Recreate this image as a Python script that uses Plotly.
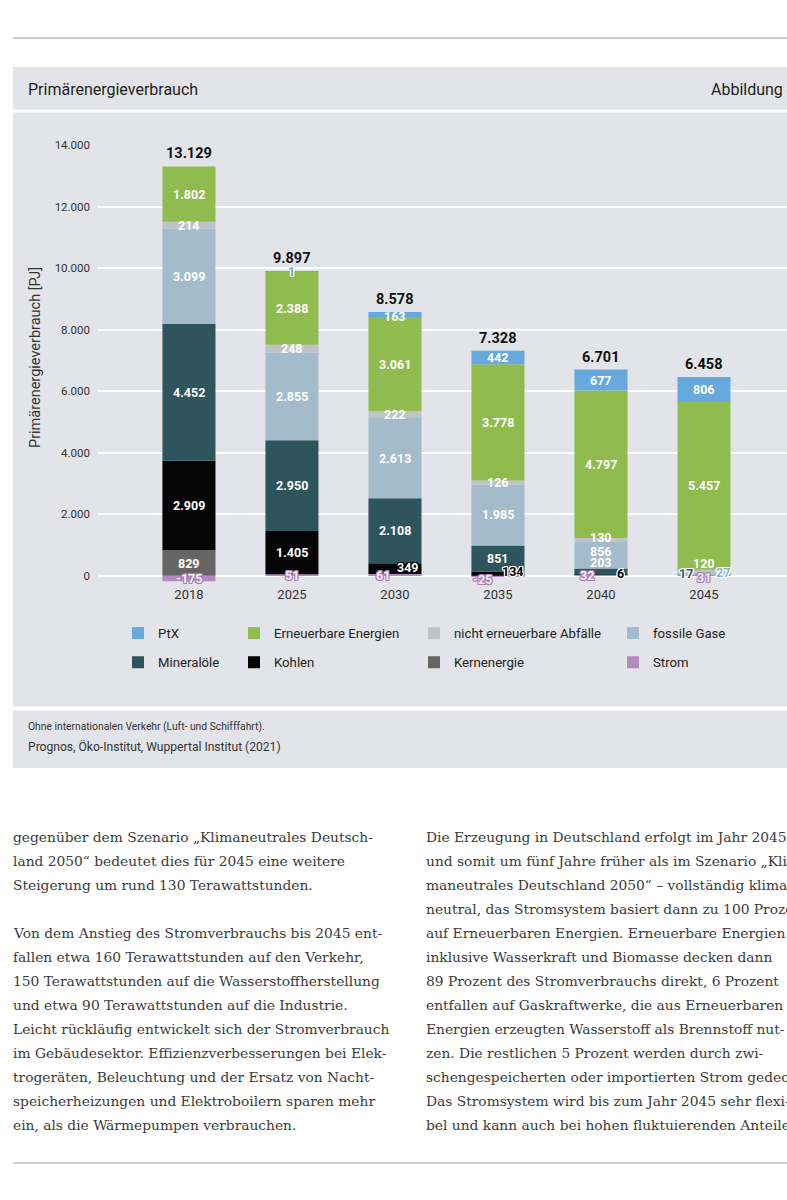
import plotly.graph_objects as go

W, H = 787, 1200

years = ["2018", "2025", "2030", "2035", "2040", "2045"]
strom = [-175, 51, 61, -25, 32, 31]
kernenergie = [829, 0, 0, 0, 0, 0]
kohlen = [2909, 1405, 349, 134, 6, 0]
mineraloele = [4452, 2950, 2108, 851, 203, 17]
fossile_gase = [3099, 2855, 2613, 1985, 856, 27]
abfaelle = [214, 248, 222, 126, 130, 120]
erneuerbare = [1802, 2388, 3061, 3778, 4797, 5457]
ptx = [0, 1, 163, 442, 677, 806]
totals = [13129, 9897, 8578, 7328, 6701, 6458]
y_ticks = [0, 2000, 4000, 6000, 8000, 10000, 12000, 14000]

left_lines = [
    "gegenüber dem Szenario „Klimaneutrales Deutsch-",
    "land 2050“ bedeutet dies für 2045 eine weitere",
    "Steigerung um rund 130 Terawattstunden.",
    "",
    "Von dem Anstieg des Stromverbrauchs bis 2045 ent-",
    "fallen etwa 160 Terawattstunden auf den Verkehr,",
    "150 Terawattstunden auf die Wasserstoffherstellung",
    "und etwa 90 Terawattstunden auf die Industrie.",
    "Leicht rückläufig entwickelt sich der Stromverbrauch",
    "im Gebäudesektor. Effizienzverbesserungen bei Elek-",
    "trogeräten, Beleuchtung und der Ersatz von Nacht-",
    "speicherheizungen und Elektroboilern sparen mehr",
    "ein, als die Wärmepumpen verbrauchen.",
]
right_lines = [
    "Die Erzeugung in Deutschland erfolgt im Jahr 2045",
    "und somit um fünf Jahre früher als im Szenario „Kli-",
    "maneutrales Deutschland 2050“ – vollständig klima-",
    "neutral, das Stromsystem basiert dann zu 100 Prozent",
    "auf Erneuerbaren Energien. Erneuerbare Energien",
    "inklusive Wasserkraft und Biomasse decken dann",
    "89 Prozent des Stromverbrauchs direkt, 6 Prozent",
    "entfallen auf Gaskraftwerke, die aus Erneuerbaren",
    "Energien erzeugten Wasserstoff als Brennstoff nut-",
    "zen. Die restlichen 5 Prozent werden durch zwi-",
    "schengespeicherten oder importierten Strom gedeckt.",
    "Das Stromsystem wird bis zum Jahr 2045 sehr flexi-",
    "bel und kann auch bei hohen fluktuierenden Anteilen",
]

# stacking order from bottom to top: name, values, colour, legend column
series = [
    ("Strom", strom, "#b28bbd", "legend4"),
    ("Kernenergie", kernenergie, "#676563", "legend3"),
    ("Kohlen", kohlen, "#050505", "legend2"),
    ("Mineralöle", mineraloele, "#2e545c", "legend"),
    ("fossile Gase", fossile_gase, "#a3bbca", "legend4"),
    ("nicht erneuerbare Abfälle", abfaelle, "#bfc3c7", "legend3"),
    ("Erneuerbare Energien", erneuerbare, "#8fbb4f", "legend2"),
    ("PtX", ptx, "#66a9dc", "legend"),
]
# first row of the legend holds these
legend_top = {"PtX", "Erneuerbare Energien", "nicht erneuerbare Abfälle", "fossile Gase"}

FONT = "Roboto, Arial, sans-serif"
SERIF = "DejaVu Serif, serif"
PANEL = "#e3e4e9"
PURPLE = "#a97fb8"


def px(x):
    return x / W


def py(y):
    return 1 - y / H


def halo(c):
    offs = [(1, 1), (-1, -1), (1, -1), (-1, 1), (0, 1), (1, 0), (0, -1), (-1, 0)]
    return ", ".join(f"{a}px {b}px 0 {c}" for a, b in offs)


def fmt(v):
    return f"{v:,}".replace(",", ".")


# small segments get their labels nudged sideways, like in the original
label_style = {
    ("Strom", "2018"): (0, 0, "#f6ecf8", PURPLE),
    ("Strom", "2025"): (0, 0, "#f6ecf8", PURPLE),
    ("Strom", "2030"): (-12, -1, "#f6ecf8", PURPLE),
    ("Strom", "2035"): (-15, -3, "#f6ecf8", PURPLE),
    ("Strom", "2040"): (-14, 0, "#f6ecf8", PURPLE),
    ("Strom", "2045"): (0, -2, "#f6ecf8", PURPLE),
    ("PtX", "2025"): (0, 0, "#66a9dc", "#ffffff"),
    ("PtX", "2030"): (0, -2, "#ffffff", None),
    ("Kohlen", "2030"): (13, 1, "#ffffff", "#000000"),
    ("Kohlen", "2035"): (15, 2, "#000000", "#ffffff"),
    ("Kohlen", "2040"): (20, 1, "#000000", "#ffffff"),
    ("Mineralöle", "2040"): (0, 9, "#ffffff", None),
    ("fossile Gase", "2040"): (0, 4, "#ffffff", None),
    ("nicht erneuerbare Abfälle", "2040"): (0, 3, "#ffffff", None),
    ("Mineralöle", "2045"): (-18, 1, "#3e5864", "#ffffff"),
    ("fossile Gase", "2045"): (19, 1, "#8fb3cc", "#ffffff"),
    ("nicht erneuerbare Abfälle", "2045"): (0, 8, "#ffffff", None),
}

fig = go.Figure()
for name, vals, color, leg in series:
    fig.add_trace(go.Bar(
        x=years, y=vals, name=name,
        marker=dict(color=color, line=dict(width=0)),
        legend=leg, legendgroup=name,
        legendrank=1 if name in legend_top else 2,
        hovertemplate="<b>%{x}</b><br>" + name + ": %{y:,d} PJ<extra></extra>",
    ))

annotations = []
pos_base = [0] * len(years)
neg_base = [0] * len(years)
for name, vals, color, leg in series:
    for i, v in enumerate(vals):
        if v == 0:
            continue
        if v > 0:
            mid = pos_base[i] + v / 2
            pos_base[i] += v
        else:
            mid = neg_base[i] + v / 2
            neg_base[i] += v
        dx, dy, tc, outline = label_style.get((name, years[i]), (0, 0, "#ffffff", None))
        font = dict(family=FONT, size=12.5, color=tc, weight="bold")
        if outline:
            font["shadow"] = halo(outline)
        annotations.append(dict(
            x=i, y=mid, xref="x", yref="y", text=fmt(v),
            xanchor="center", yanchor="middle",
            xshift=dx, yshift=dy, font=font,
        ))

for i, t in enumerate(totals):
    annotations.append(dict(
        x=i, y=pos_base[i], xref="x", yref="y", text=fmt(t),
        xanchor="center", yanchor="bottom", yshift=2,
        font=dict(family=FONT, size=14.5, color="#111111", weight="bold"),
    ))

# page furniture around the chart
annotations += [
    dict(x=px(26), y=py(90), text="Primärenergieverbrauch", xanchor="left",
         font=dict(family=FONT, size=16, color="#1e1e1e")),
    dict(x=px(709), y=py(90), text="Abbildung 4", xanchor="left",
         font=dict(family=FONT, size=16, color="#1e1e1e")),
    dict(x=px(35), y=py(358), text="Primärenergieverbrauch [PJ]", textangle=-90,
         xanchor="center", font=dict(family=FONT, size=14.5, color="#333333")),
    dict(x=px(26), y=py(726), text="Ohne internationalen Verkehr (Luft- und Schifffahrt).",
         xanchor="left", font=dict(family=FONT, size=10.3, color="#333333")),
    dict(x=px(26), y=py(746), text="Prognos, Öko-Institut, Wuppertal Institut (2021)",
         xanchor="left", font=dict(family=FONT, size=12.1, color="#333333")),
]
for k, line in enumerate(left_lines):
    if line:
        annotations.append(dict(x=px(11), y=py(837 + 24 * k), text=line, xanchor="left",
                                font=dict(family=SERIF, size=13.8, color="#3a3a3a")))
for k, line in enumerate(right_lines):
    annotations.append(dict(x=px(424), y=py(837 + 24 * k), text=line, xanchor="left",
                            font=dict(family=SERIF, size=13.8, color="#3a3a3a")))
for a in annotations:
    a.setdefault("xref", "paper")
    a.setdefault("yref", "paper")
    a.setdefault("yanchor", "middle")
    a["showarrow"] = False

shapes = [
    dict(type="line", x0=px(13), x1=px(787), y0=py(38), y1=py(38),
         line=dict(color="#9c9c9c", width=1)),
    dict(type="rect", x0=px(13), x1=px(790), y0=py(67), y1=py(109.5),
         fillcolor=PANEL, line=dict(width=0), layer="below"),
    dict(type="rect", x0=px(13), x1=px(790), y0=py(112.5), y1=py(706.5),
         fillcolor=PANEL, line=dict(width=0), layer="below"),
    dict(type="rect", x0=px(13), x1=px(790), y0=py(710.5), y1=py(768),
         fillcolor=PANEL, line=dict(width=0), layer="below"),
    dict(type="line", x0=px(13), x1=px(787), y0=py(1163), y1=py(1163),
         line=dict(color="#9c9c9c", width=1)),
]
for s in shapes:
    s["xref"] = "paper"
    s["yref"] = "paper"

legend_base = dict(
    orientation="v", xanchor="left", yanchor="top", y=py(618),
    bgcolor="rgba(0,0,0,0)", traceorder="grouped", tracegroupgap=9,
    font=dict(family=FONT, size=13.2, color="#222222"),
)

fig.update_layout(
    width=W, height=H,
    margin=dict(l=0, r=0, t=0, b=0, autoexpand=False),
    paper_bgcolor="#ffffff",
    plot_bgcolor=PANEL,
    barmode="relative",
    bargap=0.485,
    separators=",.",
    font=dict(family=FONT, color="#333333"),
    xaxis=dict(
        domain=[px(98), 1], range=[-0.883, 5.806], type="category",
        showgrid=False, zeroline=False, showline=False, ticks="",
        ticklabelstandoff=3,
        tickfont=dict(family=FONT, size=13, color="#333333"),
    ),
    yaxis=dict(
        domain=[py(582), py(145)], range=[-200, 14000],
        tickvals=y_ticks, tickformat=",d",
        showgrid=True, gridcolor="#ffffff", gridwidth=2,
        zeroline=True, zerolinecolor="#ffffff", zerolinewidth=2,
        showline=False, ticks="", ticklabelstandoff=7,
        tickfont=dict(family=FONT, size=11.5, color="#333333"),
    ),
    legend=dict(legend_base, x=px(118)),
    legend2=dict(legend_base, x=px(234)),
    legend3=dict(legend_base, x=px(414)),
    legend4=dict(legend_base, x=px(613)),
    annotations=annotations,
    shapes=shapes,
)

fig.write_html("out.html", config={"displayModeBar": False},
               post_script="document.body.style.margin='0';")
